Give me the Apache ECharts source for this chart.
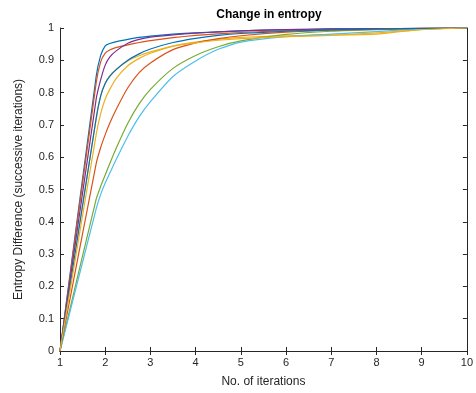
<!DOCTYPE html>
<html>
<head>
<meta charset="utf-8">
<script src="https://cdn.jsdelivr.net/npm/echarts@6/dist/echarts.min.js"></script>
<style>
html,body{margin:0;padding:0;background:#fff;}
#chart{width:476px;height:393px;}
</style>
</head>
<body>
<div id="chart"></div>
<script>
const xs = [1, 1.8, 1.9, 2, 2.1, 2.25, 2.5, 2.75, 3, 3.5, 4, 4.5, 5, 6, 7, 8, 9, 10];

const blue1   = [0, 0.85, 0.915, 0.945, 0.952, 0.958, 0.965, 0.971, 0.975, 0.981, 0.985, 0.988, 0.991, 0.995, 0.997, 0.998, 0.999, 1];
const orange1 = [0, 0.83, 0.895, 0.922, 0.932, 0.94, 0.948, 0.955, 0.961, 0.970, 0.977, 0.982, 0.986, 0.992, 0.995, 0.997, 0.999, 1];
const yellow1 = [0, 0.72, 0.79, 0.83, 0.852, 0.873, 0.898, 0.914, 0.926, 0.944, 0.956, 0.965, 0.971, 0.976, 0.978, 0.981, 0.996, 1];
const purple  = [0, 0.78, 0.84, 0.885, 0.91, 0.93, 0.953, 0.965, 0.972, 0.979, 0.984, 0.988, 0.991, 0.995, 0.997, 0.998, 0.999, 1];
const green   = [0, 0.47, 0.51, 0.545, 0.58, 0.63, 0.705, 0.765, 0.81, 0.875, 0.915, 0.942, 0.96, 0.98, 0.99, 0.995, 0.998, 1];
const cyan    = [0, 0.44, 0.485, 0.52, 0.55, 0.595, 0.665, 0.725, 0.772, 0.85, 0.898, 0.934, 0.956, 0.973, 0.981, 0.989, 0.997, 1];
const red2    = [0, 0.58, 0.63, 0.67, 0.705, 0.75, 0.815, 0.862, 0.892, 0.933, 0.954, 0.967, 0.976, 0.987, 0.993, 0.996, 0.999, 1];
const blue2   = [0, 0.72, 0.79, 0.828, 0.85, 0.872, 0.90, 0.92, 0.935, 0.955, 0.968, 0.977, 0.983, 0.99, 0.994, 0.997, 0.999, 1];
const yellow2 = [0, 0.67, 0.735, 0.78, 0.81, 0.845, 0.883, 0.906, 0.922, 0.944, 0.954, 0.962, 0.967, 0.973, 0.977, 0.985, 0.995, 1];

const xTicks = [1,2,3,4,5,6,7,8,9,10];
const yTicks = ['0','0.1','0.2','0.3','0.4','0.5','0.6','0.7','0.8','0.9','1'];

const curves = [
  {d: blue1,   c: '#0072BD'},
  {d: orange1, c: '#D95319'},
  {d: yellow1, c: '#EDB120'},
  {d: purple,  c: '#7E2F8E'},
  {d: green,   c: '#77AC30'},
  {d: cyan,    c: '#4DBEEE'},
  {d: red2,    c: '#D95319'},
  {d: blue2,   c: '#0072BD'},
  {d: yellow2, c: '#EDB120'}
];

const axisCol = '#262626';
const font = 'Liberation Sans, Helvetica, Arial, sans-serif';

const chart = echarts.init(document.getElementById('chart'), null, {renderer: 'canvas'});
const baseX = {
  type: 'value', min: 1, max: 10, interval: 1,
  axisLine: {show: true, lineStyle: {color: axisCol, width: 1}},
  axisTick: {show: true, inside: true, length: 4, lineStyle: {color: axisCol}},
  splitLine: {show: false}
};
const baseY = {
  type: 'value', min: 0, max: 1, interval: 0.1,
  axisLine: {show: true, lineStyle: {color: axisCol, width: 1}},
  axisTick: {show: true, inside: true, length: 4, lineStyle: {color: axisCol}},
  splitLine: {show: false}
};
chart.setOption({
  animation: false,
  backgroundColor: '#fff',
  title: {
    text: 'Change in entropy',
    left: 264, top: 4, textAlign: 'center',
    textStyle: {fontFamily: font, fontSize: 12, fontWeight: 'bold', color: '#000'}
  },
  grid: {left: 60, right: 7, top: 28, bottom: 42},
  xAxis: [
    Object.assign({}, baseX, {
      position: 'bottom',
      name: 'No. of iterations', nameLocation: 'middle', nameGap: 25,
      nameTextStyle: {fontFamily: font, fontSize: 12, color: axisCol},
      axisLabel: {show: true, margin: 6, fontFamily: font, fontSize: 11, color: axisCol,
        formatter: v => String(xTicks[Math.round(v) - 1])}
    }),
    Object.assign({}, baseX, {position: 'top', axisLabel: {show: false}})
  ],
  yAxis: [
    Object.assign({}, baseY, {
      position: 'left',
      name: 'Entropy Difference (successive iterations)', nameLocation: 'middle', nameGap: 35,
      nameTextStyle: {fontFamily: font, fontSize: 12, color: axisCol},
      axisLabel: {show: true, margin: 6, fontFamily: font, fontSize: 11, color: axisCol,
        formatter: v => yTicks[Math.round(v * 10)]}
    }),
    Object.assign({}, baseY, {position: 'right', axisLabel: {show: false}})
  ],
  series: curves.map(s => ({
    type: 'line',
    data: xs.map((x, i) => [x, s.d[i]]),
    showSymbol: false,
    symbol: 'none',
    smooth: 0.2,
    lineStyle: {color: s.c, width: 1.2},
    itemStyle: {color: s.c},
    clip: true
  }))
});
</script>
</body>
</html>
